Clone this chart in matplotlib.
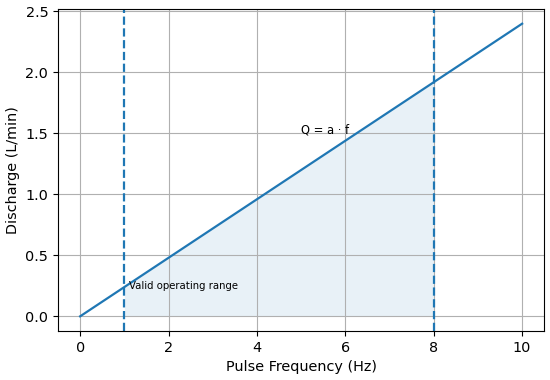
import matplotlib
matplotlib.use("Agg")
import matplotlib.pyplot as plt
import numpy as np

# pulse frequency (Hz) and discharge (L/min)
freq = [0, 10]
discharge = [0.0, 2.4]
range_lo, range_hi = 1, 8
fill_freq = [1, 8]
fill_q = [0.24, 1.92]

plt.rcParams["font.size"] = 10.4
fig, ax = plt.subplots(figsize=(5.5, 3.8), dpi=100)
ax.plot(freq, discharge, color="C0", lw=1.6)
ax.axvline(range_lo, color="C0", ls="--", lw=1.6)
ax.axvline(range_hi, color="C0", ls="--", lw=1.6)
ax.fill_between(fill_freq, 0, fill_q, color="C0", alpha=0.1, lw=0)
ax.text(5, 1.5, "Q = a · f", fontsize=8.3)
ax.text(1.1, 0.22, "Valid operating range", fontsize=7.3)
ax.set_xlabel("Pulse Frequency (Hz)")
ax.set_ylabel("Discharge (L/min)")
ax.grid(True)
fig.tight_layout(pad=0.4)
fig.savefig("out.png")
